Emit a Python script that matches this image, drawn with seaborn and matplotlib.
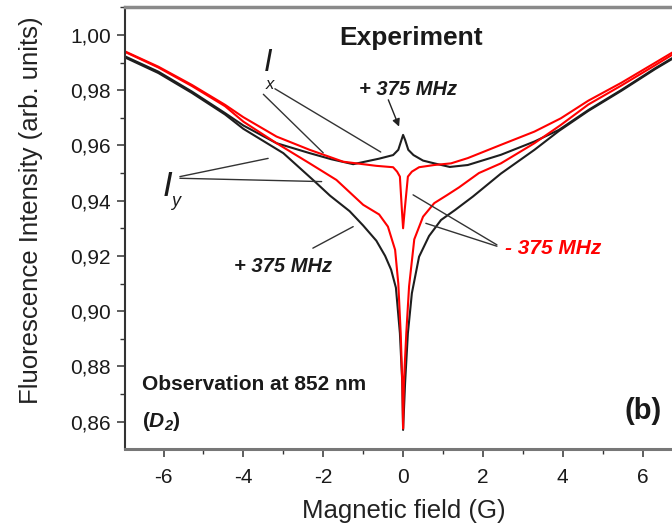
import numpy as np
import pandas as pd
import matplotlib
matplotlib.use("Agg")
import matplotlib.pyplot as plt
from matplotlib.ticker import MultipleLocator, FuncFormatter
import seaborn as sns

# ---------------- data ----------------
# +375 MHz, I_x (black, W-shape with small peak at zero field)
bx_field = [-6.96, -6.13, -5.29, -4.46, -4.0, -3.17, -2.34, -1.8, -1.25, -0.6, -0.25, -0.12,
            -0.04, 0.0, 0.05, 0.13, 0.26, 0.5, 0.78, 1.17, 1.62, 2.45, 3.29, 3.9, 4.64, 5.47, 6.31, 6.74]
bx_int = [0.9922, 0.9867, 0.9795, 0.9717, 0.9672, 0.9608, 0.9572, 0.9550, 0.9532, 0.9552, 0.9565, 0.9584,
          0.9620, 0.9638, 0.9620, 0.9584, 0.9565, 0.9545, 0.9535, 0.9522, 0.9529, 0.9566, 0.9614, 0.9656,
          0.9728, 0.9801, 0.9879, 0.9916]

# -375 MHz, I_x (red, narrow dip at zero field)
rx_field = [-6.96, -6.13, -5.29, -4.46, -4.0, -3.17, -2.34, -1.5, -0.67, -0.25, -0.15, -0.08, -0.03,
            0.0, 0.04, 0.12, 0.22, 0.4, 0.78, 1.2, 1.62, 2.45, 3.29, 3.95, 4.64, 5.47, 6.31, 6.74]
rx_int = [0.9940, 0.9885, 0.9819, 0.9747, 0.9702, 0.9632, 0.9584, 0.9541, 0.9526, 0.9521, 0.9505, 0.9487,
          0.9366, 0.9300, 0.9366, 0.9487, 0.9505, 0.9521, 0.9529, 0.9535, 0.9554, 0.9602, 0.9650, 0.9698,
          0.9762, 0.9827, 0.9899, 0.9936]

# +375 MHz, I_y (black, deep V)
by_field = [-6.96, -6.13, -5.29, -4.46, -4.0, -3.0, -2.21, -1.83, -1.34, -1.0, -0.67, -0.45, -0.3, -0.18,
            -0.08, -0.02, 0.0, 0.05, 0.12, 0.22, 0.4, 0.65, 0.95, 1.3, 1.75, 2.45, 3.29, 3.9, 4.64, 5.47,
            6.31, 6.74]
by_int = [0.9918, 0.9862, 0.9790, 0.9712, 0.9660, 0.9572, 0.9469, 0.9418, 0.9362, 0.9310, 0.9255, 0.9200,
          0.9150, 0.9085, 0.8920, 0.8740, 0.8570, 0.8740, 0.8920, 0.9065, 0.9197, 0.9272, 0.9330, 0.9366,
          0.9415, 0.9498, 0.9584, 0.9652, 0.9725, 0.9798, 0.9876, 0.9913]

# -375 MHz, I_y (red, deep V)
ry_field = [-6.96, -6.13, -5.29, -4.46, -4.0, -3.17, -2.34, -1.67, -1.0, -0.6, -0.38, -0.2, -0.12, -0.06,
            -0.02, 0.0, 0.02, 0.08, 0.15, 0.28, 0.5, 0.78, 1.1, 1.4, 1.9, 2.45, 3.29, 3.95, 4.64, 5.47,
            6.31, 6.74]
ry_int = [0.9938, 0.9882, 0.9815, 0.9742, 0.9686, 0.9608, 0.9535, 0.9475, 0.9385, 0.9350, 0.9306, 0.9222,
          0.9100, 0.8920, 0.8740, 0.8575, 0.8740, 0.8920, 0.9090, 0.9260, 0.9342, 0.9391, 0.9420, 0.9448,
          0.9500, 0.9535, 0.9608, 0.9674, 0.9748, 0.9817, 0.9890, 0.9928]

trace_names = ["+375 Iy", "+375 Ix", "-375 Iy", "-375 Ix"]
trace_colors = ["#1e1e1e", "#1e1e1e", "#ff0000", "#ff0000"]

x_ticks = [-6, -4, -2, 0, 2, 4, 6]
y_ticks = [0.86, 0.88, 0.90, 0.92, 0.94, 0.96, 0.98, 1.00]

# ---------------- styling ----------------
sns.set_style("ticks")
plt.rcParams["font.family"] = ["Liberation Sans", "DejaVu Sans"]
plt.rcParams["mathtext.fontset"] = "custom"
plt.rcParams["mathtext.rm"] = "Liberation Sans:bold"
plt.rcParams["mathtext.bf"] = "Liberation Sans:italic:bold"
plt.rcParams["mathtext.it"] = "Liberation Sans:italic"

series = {
    "+375 Iy": (by_field, by_int),
    "+375 Ix": (bx_field, bx_int),
    "-375 Iy": (ry_field, ry_int),
    "-375 Ix": (rx_field, rx_int),
}
df = pd.concat(
    [pd.DataFrame({"field": f, "intensity": v, "trace": k}) for k, (f, v) in series.items()],
    ignore_index=True,
)

fig = plt.figure(figsize=(6.72, 5.23), dpi=100)
ax = fig.add_axes([125 / 672, 74 / 523, 547 / 672, 442 / 523])

sns.lineplot(data=df, x="field", y="intensity", hue="trace", hue_order=trace_names,
             palette=dict(zip(trace_names, trace_colors)), estimator=None, sort=True,
             linewidth=1.5, legend=False, ax=ax)

ax.set_xlim(-6.965, 6.735)
ax.set_ylim(0.8501, 1.0101)

ax.set_xticks(x_ticks)
ax.set_yticks(y_ticks)
ax.xaxis.set_minor_locator(MultipleLocator(1))
ax.yaxis.set_minor_locator(MultipleLocator(0.01))
ax.yaxis.set_major_formatter(FuncFormatter(lambda v, p: f"{v:.2f}".replace(".", ",")))
ax.xaxis.set_major_formatter(FuncFormatter(lambda v, p: f"{v:.0f}"))
ax.tick_params(axis="both", which="major", direction="out", length=6, width=1.1,
               labelsize=15, colors="#333333", labelcolor="#1a1a1a")
ax.tick_params(axis="both", which="minor", direction="out", length=3.5, width=1.0, colors="#333333")
ax.tick_params(axis="x", which="major", pad=8)
ax.tick_params(axis="y", which="major", pad=4)

ax.spines["right"].set_visible(False)
ax.spines["top"].set_color("#8a8a8a")
ax.spines["top"].set_linewidth(2.5)
ax.spines["bottom"].set_color("#777777")
ax.spines["bottom"].set_linewidth(2.2)
ax.spines["left"].set_color("#333333")
ax.spines["left"].set_linewidth(1.5)

ax.set_xlabel("Magnetic field (G)", fontsize=18.5, color="#222222")
ax.set_ylabel("Fluorescence Intensity (arb. units)", fontsize=18.5, color="#222222")
ax.xaxis.set_label_coords(0.510, -0.112)
ax.yaxis.set_label_coords(-0.150, 0.540)

# ---------------- annotations ----------------
ax.text(0.2, 0.9987, "Experiment", fontsize=19, fontweight="bold", ha="center", va="center",
        color="#1a1a1a")
ax.text(0.12, 0.9801, "+ 375 MHz", fontsize=14.5, fontweight="bold", fontstyle="italic",
        ha="center", va="center", color="#1a1a1a")
ax.annotate("", xy=(-0.10, 0.9668), xytext=(-0.37, 0.9765),
            arrowprops=dict(arrowstyle="-|>", color="#222222", lw=1.0, mutation_scale=11,
                            shrinkA=0, shrinkB=0))

line_kw = dict(arrowstyle="-", color="#333333", lw=1.0, shrinkA=0, shrinkB=0)

# I_x label and leader lines
ax.text(-3.38, 0.9899, "I", fontsize=22, fontstyle="italic", ha="center", va="center",
        color="#1a1a1a")
ax.text(-3.34, 0.9822, "x", fontsize=12, fontstyle="italic", ha="center", va="center",
        color="#1a1a1a")
ax.annotate("", xy=(-2.00, 0.9573), xytext=(-3.50, 0.9785), arrowprops=line_kw)
ax.annotate("", xy=(-0.56, 0.9576), xytext=(-3.21, 0.9805), arrowprops=line_kw)

# I_y label and leader lines
ax.text(-5.91, 0.9453, "I", fontsize=25, fontstyle="italic", ha="center", va="center",
        color="#1a1a1a")
ax.text(-5.69, 0.9397, "y", fontsize=13, fontstyle="italic", ha="center", va="center",
        color="#1a1a1a")
ax.annotate("", xy=(-3.38, 0.9553), xytext=(-5.59, 0.9487), arrowprops=line_kw)
ax.annotate("", xy=(-2.04, 0.9469), xytext=(-5.59, 0.9481), arrowprops=line_kw)

# bottom-left +375 MHz
ax.text(-3.0, 0.9163, "+ 375 MHz", fontsize=14.5, fontweight="bold", fontstyle="italic",
        ha="center", va="center", color="#1a1a1a")
ax.annotate("", xy=(-1.25, 0.9306), xytext=(-2.26, 0.9228), arrowprops=line_kw)

# -375 MHz (red)
ax.text(3.77, 0.9227, "- 375 MHz", fontsize=15, fontweight="bold", fontstyle="italic",
        ha="center", va="center", color="#ff0000")
ax.annotate("", xy=(0.25, 0.9421), xytext=(2.35, 0.9240), arrowprops=line_kw)
ax.annotate("", xy=(0.57, 0.9318), xytext=(2.35, 0.9235), arrowprops=line_kw)

# observation note
ax.text(-6.54, 0.8733, "Observation at 852 nm", fontsize=15, fontweight="bold",
        ha="left", va="center", color="#1a1a1a")
ax.text(-6.54, 0.8602, r"$\mathrm{(}\mathbf{D}_{\mathbf{2}}\mathrm{)}$", fontsize=15,
        ha="left", va="center", color="#1a1a1a")

ax.text(6.01, 0.8639, "(b)", fontsize=21, fontweight="bold", ha="center", va="center",
        color="#1a1a1a")

fig.savefig("out.png", dpi=100)
